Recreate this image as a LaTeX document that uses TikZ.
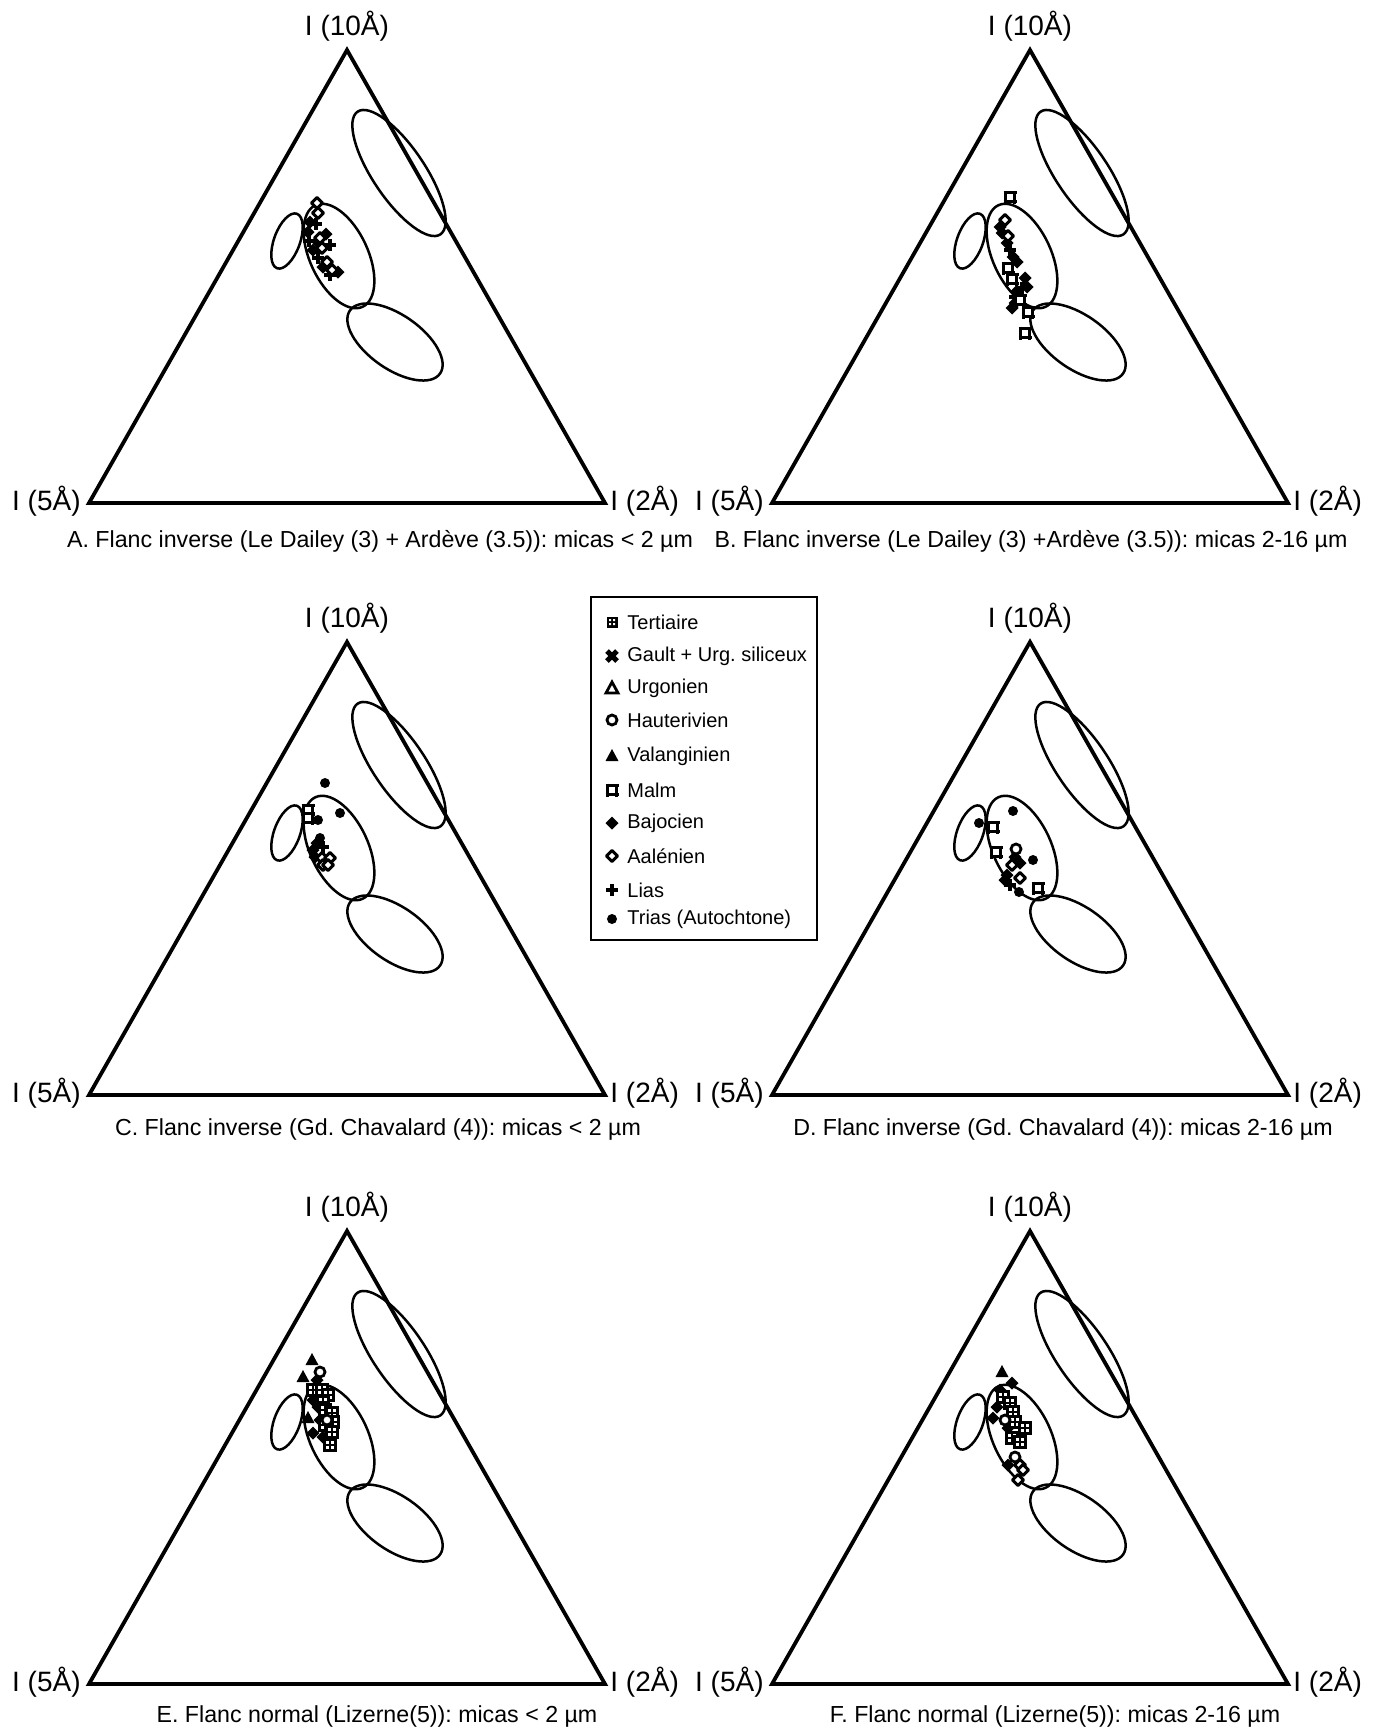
\documentclass[tikz,border=0pt]{standalone}
\usepackage{fontspec}
\setmainfont{Liberation Sans}
\frenchspacing
\tikzset{
  triline/.style={line width=1.9pt, line join=miter},
  ell/.style={line width=1.25pt},
  lbl/.style={font=\fontsize{14}{16}\selectfont, inner sep=0pt},
  captxt/.style={font=\fontsize{11.6}{13}\selectfont, inner sep=0pt, anchor=base},
  legtxt/.style={font=\fontsize{10}{12}\selectfont, inner sep=0pt, anchor=west},
  legbox/.style={line width=1pt},
  trias/.pic={\fill (0,0) circle (5);},
  lias/.pic={\draw[line width=2.4pt] (-6,0)--(6,0) (0,-6)--(0,6);},
  bajoc/.pic={\fill (0,-6.5)--(6.5,0)--(0,6.5)--(-6.5,0)--cycle;},
  aalen/.pic={\draw[line width=1.5pt, fill=white, line join=round] (0,-5.5)--(5.5,0)--(0,5.5)--(-5.5,0)--cycle;},
  malm/.pic={\draw[line width=1.3pt, fill=white] (-4.5,-4.5) rectangle (4.5,4.5);
             \draw[line width=1.3pt] (-6.5,-4.5)--(6.5,-4.5) (-6.5,4.5)--(6.5,4.5) (-4.5,-6.5)--(-4.5,6.5) (4.5,-6.5)--(4.5,6.5);},
  hauter/.pic={\draw[line width=1.4pt, fill=white] (0,0) circle (5);},
  valang/.pic={\fill (0,-7)--(6.5,5)--(-6.5,5)--cycle;},
  urgon/.pic={\draw[line width=1.4pt, fill=white, line join=miter] (0,-6)--(6,5)--(-6,5)--cycle;},
  gault/.pic={\draw[line width=2.6pt] (-5,-5)--(5,5) (-5,5)--(5,-5);},
  tert/.pic={\draw[line width=1.2pt, fill=white] (-5.5,-5.5) rectangle (5.5,5.5);
             \draw[line width=1.2pt] (-5.5,0)--(5.5,0) (0,-5.5)--(0,5.5);},
  terleg/.pic={\fill (-5.5,-5.5) rectangle (5.5,5.5);
             \fill[white] (-3,-3) rectangle (-1,-1) (1,-3) rectangle (3,-1) (-3,1) rectangle (-1,3) (1,1) rectangle (3,3);},
}
\newcommand{\ternplot}[3]{%
  \begin{scope}[shift={(#2,#3)}]
    \coordinate (#1top) at (0,0);
    \coordinate (#1left) at (-258,453);
    \coordinate (#1right) at (258,453);
    \draw[triline] (#1top) -- (#1right) -- (#1left) -- cycle;
    \draw[ell, shift={(52,123)}, rotate=-56] (0,0) ellipse [x radius=74, y radius=26];
    \draw[ell, shift={(-8,206)}, rotate=-65] (0,0) ellipse [x radius=56, y radius=29];
    \draw[ell, shift={(-60,191)}, rotate=70] (0,0) ellipse [x radius=29, y radius=13];
    \draw[ell, shift={(48,292)}, rotate=-35] (0,0) ellipse [x radius=55, y radius=27];
    \node[lbl, anchor=base] (#1ten) at (0,-15) {I (10Å)};
    \node[lbl, anchor=base east] (#1five) at (-266,460) {I (5Å)};
    \node[lbl, anchor=base west] (#1two) at (263,460) {I (2Å)};
  \end{scope}}
\begin{document}
\begin{tikzpicture}[x=0.5pt,y=-0.5pt]
\useasboundingbox (0,0) rectangle (1394,1731);
\fill[white] (0,0) rectangle (1394,1731);
\ternplot{A}{347}{50}
\ternplot{B}{1030}{50}
\ternplot{C}{347}{642}
\ternplot{D}{1030}{642}
\ternplot{E}{347}{1231}
\ternplot{F}{1030}{1231}
% captions
\node[captxt] (capA) at (380,547) {A. Flanc inverse (Le Dailey (3) + Ardève (3.5)): micas < 2 µm};
\node[captxt] (capB) at (1031,547) {B. Flanc inverse (Le Dailey (3) +Ardève (3.5)): micas 2-16 µm};
\node[captxt] (capC) at (378,1135) {C. Flanc inverse (Gd. Chavalard (4)): micas < 2 µm};
\node[captxt] (capD) at (1063,1135) {D. Flanc inverse (Gd. Chavalard (4)): micas 2-16 µm};
\node[captxt] (capE) at (377,1722) {E. Flanc normal (Lizerne(5)): micas < 2 µm};
\node[captxt] (capF) at (1055,1722) {F. Flanc normal (Lizerne(5)): micas 2-16 µm};
% legend
\draw[legbox] (591,597) rectangle (817,940);
\pic at (612,622) {terleg}; \node[legtxt] (lg1) at (627,622) {Tertiaire};
\pic at (612,656) {gault};  \node[legtxt] (lg2) at (627,656) {Gault + Urg. siliceux};
\pic at (612,688) {urgon};  \node[legtxt] (lg3) at (627,688) {Urgonien};
\pic at (612,720) {hauter}; \node[legtxt] (lg4) at (627,720) {Hauterivien};
\pic at (612,756) {valang}; \node[legtxt] (lg5) at (627,756) {Valanginien};
\pic at (612,790) {malm};   \node[legtxt] (lg6) at (627,790) {Malm};
\pic at (612,823) {bajoc};  \node[legtxt] (lg7) at (627,823) {Bajocien};
\pic at (612,856) {aalen};  \node[legtxt] (lg8) at (627,856) {Aalénien};
\pic at (612,890) {lias};   \node[legtxt] (lg9) at (627,890) {Lias};
\pic at (612,919) {trias};  \node[legtxt] (lg10) at (627,919) {Trias (Autochtone)};
% data A
\foreach \p in {(310,222),(308,232),(326,234),(313,250),(323,267),(338,272),(318,242)} \pic at \p {bajoc};
\foreach \p in {(316,224),(330,245),(318,258),(330,275),(309,241)} \pic at \p {lias};
\foreach \p in {(317,203),(318,213),(320,238),(322,248),(327,262),(332,270)} \pic at \p {aalen};
% data B
\foreach \p in {(1000,227),(1002,233),(1007,243),(1013,257),(1017,262),(1025,278),(1027,287),(1017,291),(1015,303),(1012,308)} \pic at \p {bajoc};
\foreach \p in {(1010,250),(1022,288),(1015,297)} \pic at \p {lias};
\foreach \p in {(1005,220),(1008,236)} \pic at \p {aalen};
\foreach \p in {(1010,197),(1008,268),(1012,279),(1020,300),(1028,312),(1025,333)} \pic at \p {malm};
% data C
\foreach \p in {(325,783),(340,813),(318,820),(320,838)} \pic at \p {trias};
\foreach \p in {(317,843),(313,850),(315,857)} \pic at \p {bajoc};
\pic at (323,847) {lias};
\foreach \p in {(308,810),(308,818)} \pic at \p {malm};
\foreach \p in {(322,858),(330,858),(323,865),(328,865)} \pic at \p {aalen};
% data D
\foreach \p in {(1013,811),(979,823),(1033,860),(1019,892)} \pic at \p {trias};
\foreach \p in {(1015,857),(1020,863),(1007,875),(1005,880)} \pic at \p {bajoc};
\pic at (1010,885) {lias};
\foreach \p in {(993,827),(996,852),(1038,888)} \pic at \p {malm};
\pic at (1016,849) {hauter};
\foreach \p in {(1012,865),(1020,878)} \pic at \p {aalen};
% data E
\foreach \p in {(312,1360),(303,1377),(308,1418)} \pic at \p {valang};
\foreach \p in {(317,1380),(313,1400),(318,1407),(320,1420),(313,1433),(323,1437)} \pic at \p {bajoc};
\foreach \p in {(313,1390),(322,1390),(328,1395),(323,1402),(325,1410),(332,1413),(333,1422),(325,1425),(332,1432),(330,1445)} \pic at \p {tert};
\foreach \p in {(320,1372),(327,1420)} \pic at \p {hauter};
% data F
\pic at (1002,1372) {valang};
\foreach \p in {(1012,1383),(1000,1390),(997,1407),(993,1418),(1008,1428),(1008,1465)} \pic at \p {bajoc};
\foreach \p in {(1003,1397),(1010,1403),(1013,1412),(1015,1422),(1025,1428),(1012,1438),(1020,1442)} \pic at \p {tert};
\foreach \p in {(1005,1420),(1015,1457)} \pic at \p {hauter};
\foreach \p in {(1020,1465),(1023,1470),(1018,1480)} \pic at \p {aalen};
\end{tikzpicture}
\end{document}
